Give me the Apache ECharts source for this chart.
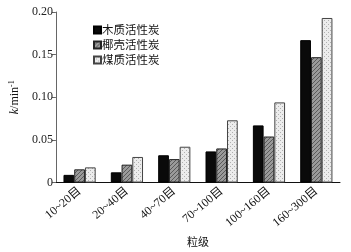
<!DOCTYPE html>
<html>
<head>
<meta charset="utf-8">
<script src="https://cdn.jsdelivr.net/npm/echarts@6/dist/echarts.min.js"></script>
<style>
  html, body { margin: 0; padding: 0; background: #fff; }
  #chart { width: 351px; height: 252px; }
</style>
</head>
<body>
<div id="chart"></div>
<script>
// 粒级
const categories = ['10~20目', '20~40目', '40~70目', '70~100目', '100~160目', '160~300目']
// 速率常数 k / min^-1
const woodCarbon = [0.009, 0.012, 0.032, 0.0365, 0.067, 0.167]
const shellCarbon = [0.0155, 0.021, 0.0275, 0.040, 0.054, 0.147]
const coalCarbon = [0.0178, 0.030, 0.042, 0.073, 0.094, 0.193]
const seriesNames = ['木质活性炭', '椰壳活性炭', '煤质活性炭']

function makePattern(bg, fg, kind) {
  const c = document.createElement('canvas')
  c.width = 4
  c.height = 4
  const ctx = c.getContext('2d')
  ctx.fillStyle = bg
  ctx.fillRect(0, 0, 4, 4)
  ctx.fillStyle = fg
  if (kind === 'hatch') {
    // diagonal lines
    ctx.fillRect(3, 0, 1, 1)
    ctx.fillRect(2, 1, 1, 1)
    ctx.fillRect(1, 2, 1, 1)
    ctx.fillRect(0, 3, 1, 1)
  } else {
    // dots
    ctx.fillRect(0, 0, 1, 1)
    ctx.fillRect(2, 2, 1, 1)
  }
  return { image: c, repeat: 'repeat' }
}

const chart = echarts.init(document.getElementById('chart'))
const serif = '"Liberation Serif", "Noto Sans CJK SC", serif'

const barStyle = (color, border) => ({
  color: color,
  borderColor: border,
  borderWidth: 1
})

const option = {
  animation: false,
  grid: { left: 48, right: 11, top: 12, bottom: 59 },
  legend: {
    orient: 'vertical',
    left: 88,
    top: 19,
    itemWidth: 7,
    itemHeight: 7,
    itemGap: 3,
    icon: 'rect',
    textStyle: {
      fontFamily: '"Noto Sans CJK SC", serif',
      fontSize: 11.5,
      lineHeight: 12,
      color: '#111',
      padding: [0, 0, 0, -4]
    },
    data: seriesNames
  },
  xAxis: {
    type: 'category',
    data: categories,
    name: '粒级',
    nameLocation: 'middle',
    nameGap: 40,
    nameTextStyle: { fontFamily: '"Noto Sans CJK SC", serif', fontSize: 11, color: '#111' },
    axisLine: { lineStyle: { color: '#111', width: 1 } },
    axisTick: { show: false },
    axisLabel: {
      rotate: 40,
      interval: 0,
      margin: 7,
      fontFamily: serif,
      fontSize: 12,
      color: '#111'
    }
  },
  yAxis: {
    type: 'value',
    min: 0,
    max: 0.20,
    interval: 0.05,
    name: '{i|k}/min{s|-1}',
    nameLocation: 'middle',
    nameRotate: 90,
    nameGap: 30,
    nameTextStyle: {
      fontFamily: serif,
      fontSize: 12,
      color: '#111',
      rich: {
        i: { fontFamily: serif, fontStyle: 'italic', fontSize: 12, color: '#111' },
        s: { fontFamily: serif, fontSize: 8, color: '#111', verticalAlign: 'top', padding: [0, 0, 6, 0] }
      }
    },
    axisLine: { show: true, lineStyle: { color: '#666', width: 1 } },
    axisTick: { show: true, inside: false, length: 4, lineStyle: { color: '#666' } },
    splitLine: { show: false },
    axisLabel: {
      margin: 3,
      fontFamily: serif,
      fontSize: 12,
      color: '#222',
      formatter: v => (v === 0 ? '0' : v.toFixed(2))
    }
  },
  series: [
    {
      name: seriesNames[0],
      type: 'bar',
      data: woodCarbon,
      barGap: '0%',
      barCategoryGap: '32%',
      itemStyle: barStyle('#0a0a0a', '#000')
    },
    {
      name: seriesNames[1],
      type: 'bar',
      data: shellCarbon,
      barGap: '0%',
      barCategoryGap: '32%',
      itemStyle: barStyle(makePattern('#9a9a9a', '#5a5a5a', 'hatch'), '#222')
    },
    {
      name: seriesNames[2],
      type: 'bar',
      data: coalCarbon,
      barGap: '0%',
      barCategoryGap: '32%',
      itemStyle: barStyle(makePattern('#ececec', '#b0b0b0', 'dots'), '#444')
    }
  ]
}

chart.setOption(option)
</script>
</body>
</html>
